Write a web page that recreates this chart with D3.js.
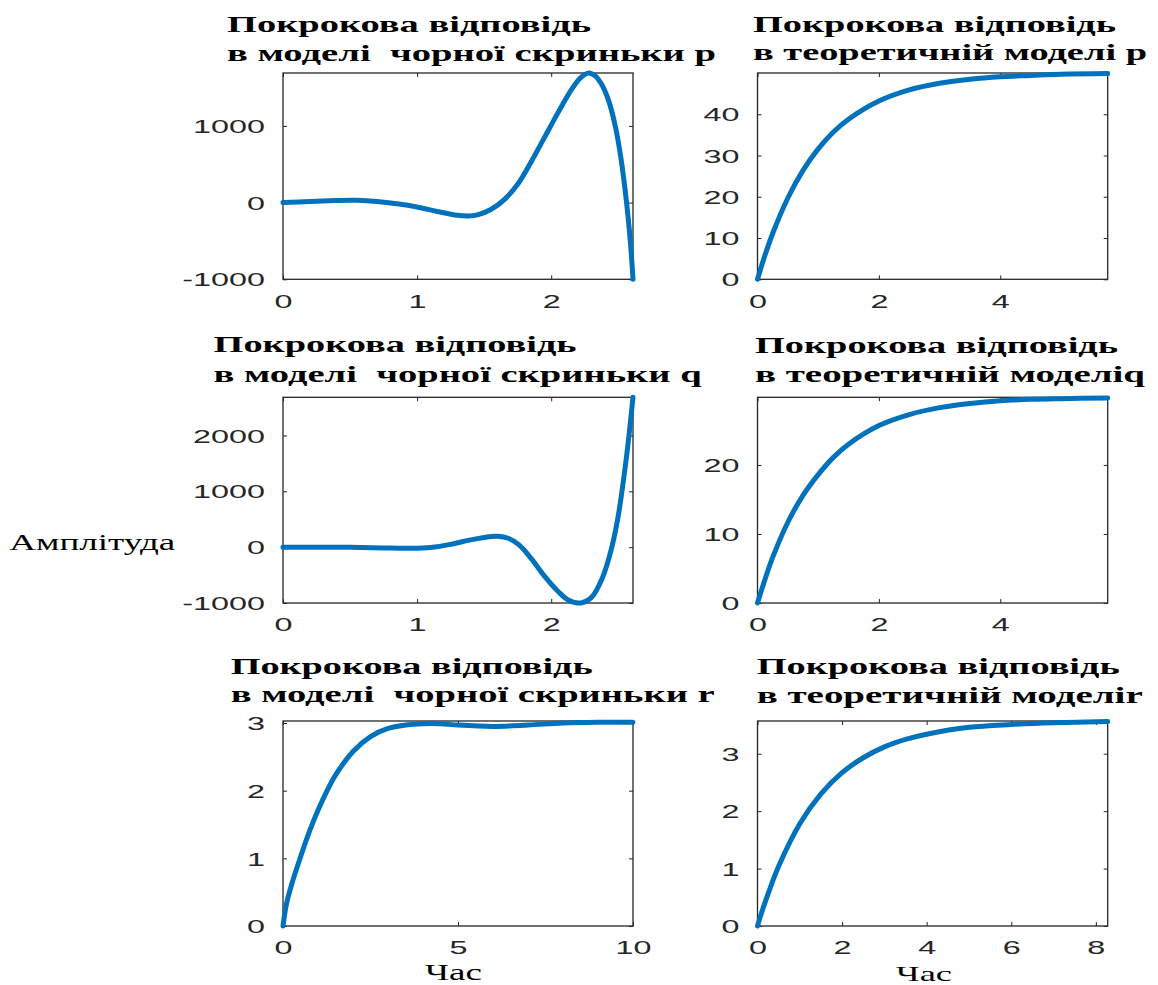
<!DOCTYPE html>
<html>
<head>
<meta charset="utf-8">
<script src="https://cdn.jsdelivr.net/npm/d3@7"></script>
<style>
  body { margin: 0; background: #fff; }
  svg { display: block; }
  text { white-space: pre; }
</style>
</head>
<body>
<svg id="chart" width="1158" height="985"></svg>
<script>
// ---------------- DATA ----------------
// Black-box model, p
const timeBlackP = [0, 0.2, 0.4, 0.55, 0.7, 0.85, 1.0, 1.15, 1.3, 1.38, 1.45, 1.55, 1.65, 1.75, 1.85, 1.95, 2.05, 2.15, 2.22, 2.28, 2.33, 2.38, 2.43, 2.48, 2.52, 2.56, 2.59, 2.61];
const valueBlackP = [0, 15, 28, 30, 15, -15, -57, -115, -165, -175, -160, -90, 40, 240, 530, 850, 1170, 1470, 1630, 1690, 1650, 1530, 1320, 980, 580, 30, -500, -1000];
// Theoretical model, p
const timeTheoryP = [0, 0.1, 0.25, 0.5, 0.75, 1, 1.25, 1.5, 2, 2.5, 3, 3.5, 4, 4.5, 5, 5.77];
const valueTheoryP = [0, 4.8, 11.1, 19.7, 26.4, 31.6, 35.7, 38.8, 43.2, 45.9, 47.5, 48.5, 49.1, 49.4, 49.7, 49.85];
// Black-box model, q
const timeBlackQ = [0, 0.25, 0.5, 0.75, 0.95, 1.1, 1.25, 1.4, 1.55, 1.6, 1.68, 1.76, 1.85, 1.95, 2.05, 2.13, 2.22, 2.3, 2.38, 2.45, 2.5, 2.55, 2.58, 2.61];
const valueBlackQ = [0, 0, -3, -15, -20, -5, 50, 130, 190, 195, 160, 40, -200, -520, -790, -950, -1000, -900, -560, -20, 560, 1400, 2000, 2683];
// Theoretical model, q
const timeTheoryQ = [0, 0.1, 0.25, 0.5, 0.75, 1, 1.25, 1.5, 2, 2.5, 3, 3.5, 4, 4.5, 5, 5.77];
const valueTheoryQ = [0, 2.8, 6.6, 11.7, 15.6, 18.6, 21.1, 23.0, 25.7, 27.3, 28.3, 28.9, 29.3, 29.5, 29.6, 29.7];
// Black-box model, r
const timeBlackR = [0, 0.1, 0.25, 0.5, 0.75, 1, 1.25, 1.5, 2, 2.5, 3, 3.5, 4, 4.5, 5, 6, 7, 8, 9, 10];
const valueBlackR = [0, 0.33, 0.62, 1.02, 1.39, 1.71, 1.99, 2.23, 2.58, 2.80, 2.92, 2.97, 2.99, 2.99, 2.97, 2.95, 2.97, 3.0, 3.01, 3.01];
// Theoretical model, r
const timeTheoryR = [0, 0.1, 0.25, 0.5, 1, 1.5, 2, 2.5, 3, 3.5, 4, 5, 6, 7, 8.28];
const valueTheoryR = [0, 0.24, 0.56, 1.04, 1.78, 2.30, 2.67, 2.93, 3.12, 3.25, 3.34, 3.46, 3.51, 3.54, 3.56];

// Axis ranges and ticks
const xDomainBlackPQ = [0, 2.61];
const xDomainTheoryPQ = [0, 5.77];
const xDomainBlackR = [0, 10];
const xDomainTheoryR = [0, 8.28];
const yDomainBlackP = [-1000, 1690];
const yDomainTheoryP = [0, 50];
const yDomainBlackQ = [-1000, 2683];
const yDomainTheoryQ = [0, 29.8];
const yDomainBlackR = [0, 3.03];
const yDomainTheoryR = [0, 3.57];

const xTicksBlackPQ = [0, 1, 2];
const xTicksTheoryPQ = [0, 2, 4];
const xTicksBlackR = [0, 5, 10];
const xTicksTheoryR = [0, 2, 4, 6, 8];
const yTicksBlackP = [-1000, 0, 1000];
const yTicksTheoryP = [0, 10, 20, 30, 40];
const yTicksBlackQ = [-1000, 0, 1000, 2000];
const yTicksTheoryQ = [0, 10, 20];
const yTicksBlackR = [0, 1, 2, 3];
const yTicksTheoryR = [0, 1, 2, 3];

// Text
const titleTop = "Покрокова відповідь";
const titleBlackP = "в моделі  чорної скриньки p";
const titleTheoryP = "в теоретичній моделі p";
const titleBlackQ = "в моделі  чорної скриньки q";
const titleTheoryQ = "в теоретичній моделіq";
const titleBlackR = "в моделі  чорної скриньки r";
const titleTheoryR = "в теоретичній моделіr";
const yLabel = "Амплітуда";
const xLabel = "Час";

// ---------------- LAYOUT ----------------
const svg = d3.select("#chart");
svg.append("rect").attr("width", 1158).attr("height", 985).attr("fill", "#fff");

const SX = 1.75;           // horizontal stretch of the reference's text
const axisColor = "#262626";
const lineColor = "#0072BD";

const panels = [
  { t: timeBlackP, v: valueBlackP, xd: xDomainBlackPQ, yd: yDomainBlackP, xt: xTicksBlackPQ, yt: yTicksBlackP,
    box: [283, 73, 633, 279.3], title: [titleTop, titleBlackP], tx: 227, ty: [32, 61], tw: [364, 489] },
  { t: timeTheoryP, v: valueTheoryP, xd: xDomainTheoryPQ, yd: yDomainTheoryP, xt: xTicksTheoryPQ, yt: yTicksTheoryP,
    box: [757.5, 73, 1107.7, 279.3], title: [titleTop, titleTheoryP], tx: 753, ty: [32, 60], tw: [363, 394] },
  { t: timeBlackQ, v: valueBlackQ, xd: xDomainBlackPQ, yd: yDomainBlackQ, xt: xTicksBlackPQ, yt: yTicksBlackQ,
    box: [283, 397.3, 633, 603], title: [titleTop, titleBlackQ], tx: 213.6, ty: [352, 381.5], tw: [363, 488] },
  { t: timeTheoryQ, v: valueTheoryQ, xd: xDomainTheoryPQ, yd: yDomainTheoryQ, xt: xTicksTheoryPQ, yt: yTicksTheoryQ,
    box: [757.5, 397.3, 1107.7, 603], title: [titleTop, titleTheoryQ], tx: 755, ty: [353, 382], tw: [363, 390] },
  { t: timeBlackR, v: valueBlackR, xd: xDomainBlackR, yd: yDomainBlackR, xt: xTicksBlackR, yt: yTicksBlackR,
    box: [283, 721, 633, 926], title: [titleTop, titleBlackR], tx: 230.7, ty: [673.5, 702], tw: [362, 484] },
  { t: timeTheoryR, v: valueTheoryR, xd: xDomainTheoryR, yd: yDomainTheoryR, xt: xTicksTheoryR, yt: yTicksTheoryR,
    box: [757.5, 721, 1107.7, 926], title: [titleTop, titleTheoryR], tx: 756.7, ty: [674, 703], tw: [363, 386] }
];

function styleAxis(sel) {
  sel.attr("font-family", "'Liberation Sans', Arial, sans-serif").attr("font-size", 18.5);
  sel.select(".domain").remove();
  sel.selectAll(".tick line").attr("stroke", axisColor).attr("stroke-width", 1);
  sel.selectAll(".tick text").attr("fill", axisColor);
}
const fmt = d => String(d);

panels.forEach(p => {
  const [x0, y0, x1, y1] = p.box;
  const W = x1 - x0, H = y1 - y0;
  const x = d3.scaleLinear().domain(p.xd).range([0, W]);
  const y = d3.scaleLinear().domain(p.yd).range([H, 0]);
  const g = svg.append("g").attr("transform", `translate(${x0},${y0})`);

  // axes (inward ticks on all four sides)
  const bottom = g.append("g").attr("transform", `translate(0,${H})`)
    .call(d3.axisBottom(x).tickValues(p.xt).tickSize(-4).tickSizeOuter(0).tickFormat(fmt));
  styleAxis(bottom);
  bottom.selectAll(".tick text")
    .attr("y", 28.5).attr("dy", null)
    .attr("transform", `scale(${SX},1)`);

  const left = g.append("g")
    .call(d3.axisLeft(y).tickValues(p.yt).tickSize(-4).tickSizeOuter(0).tickFormat(fmt));
  styleAxis(left);
  left.selectAll(".tick text")
    .attr("x", -18 / SX).attr("dy", "0.36em")
    .attr("transform", `scale(${SX},1)`);

  const top = g.append("g")
    .call(d3.axisTop(x).tickValues(p.xt).tickSize(-4).tickSizeOuter(0).tickFormat(""));
  styleAxis(top);
  const right = g.append("g").attr("transform", `translate(${W},0)`)
    .call(d3.axisRight(y).tickValues(p.yt).tickSize(-4).tickSizeOuter(0).tickFormat(""));
  styleAxis(right);

  // box
  g.append("rect").attr("x", 0).attr("y", 0).attr("width", W).attr("height", H)
    .attr("fill", "none").attr("stroke", axisColor).attr("stroke-width", 1.3);

  // curve
  const line = d3.line().x(d => x(d[0])).y(d => y(d[1])).curve(d3.curveCatmullRom.alpha(0.5));
  g.append("path").datum(d3.zip(p.t, p.v))
    .attr("d", line)
    .attr("fill", "none").attr("stroke", lineColor).attr("stroke-width", 5)
    .attr("stroke-linejoin", "round").attr("stroke-linecap", "round");

  // title
  p.title.forEach((s, i) => {
    svg.append("text")
      .attr("x", p.tx).attr("y", p.ty[i])
      .attr("font-family", "'Liberation Serif', 'Times New Roman', serif")
      .attr("font-weight", "bold").attr("font-size", 24)
      .attr("fill", "#000")
      .attr("textLength", p.tw[i]).attr("lengthAdjust", "spacingAndGlyphs")
      .text(s);
  });
});

// axis labels
svg.append("text").attr("x", 9.3).attr("y", 550)
  .attr("font-family", "'Liberation Serif', 'Times New Roman', serif").attr("font-size", 24)
  .attr("textLength", 166).attr("lengthAdjust", "spacingAndGlyphs").text(yLabel);
svg.append("text").attr("x", 425).attr("y", 980)
  .attr("font-family", "'Liberation Serif', 'Times New Roman', serif").attr("font-size", 23)
  .attr("textLength", 57).attr("lengthAdjust", "spacingAndGlyphs").text(xLabel);
svg.append("text").attr("x", 896).attr("y", 981)
  .attr("font-family", "'Liberation Serif', 'Times New Roman', serif").attr("font-size", 22)
  .attr("textLength", 56).attr("lengthAdjust", "spacingAndGlyphs").text(xLabel);
</script>
</body>
</html>
